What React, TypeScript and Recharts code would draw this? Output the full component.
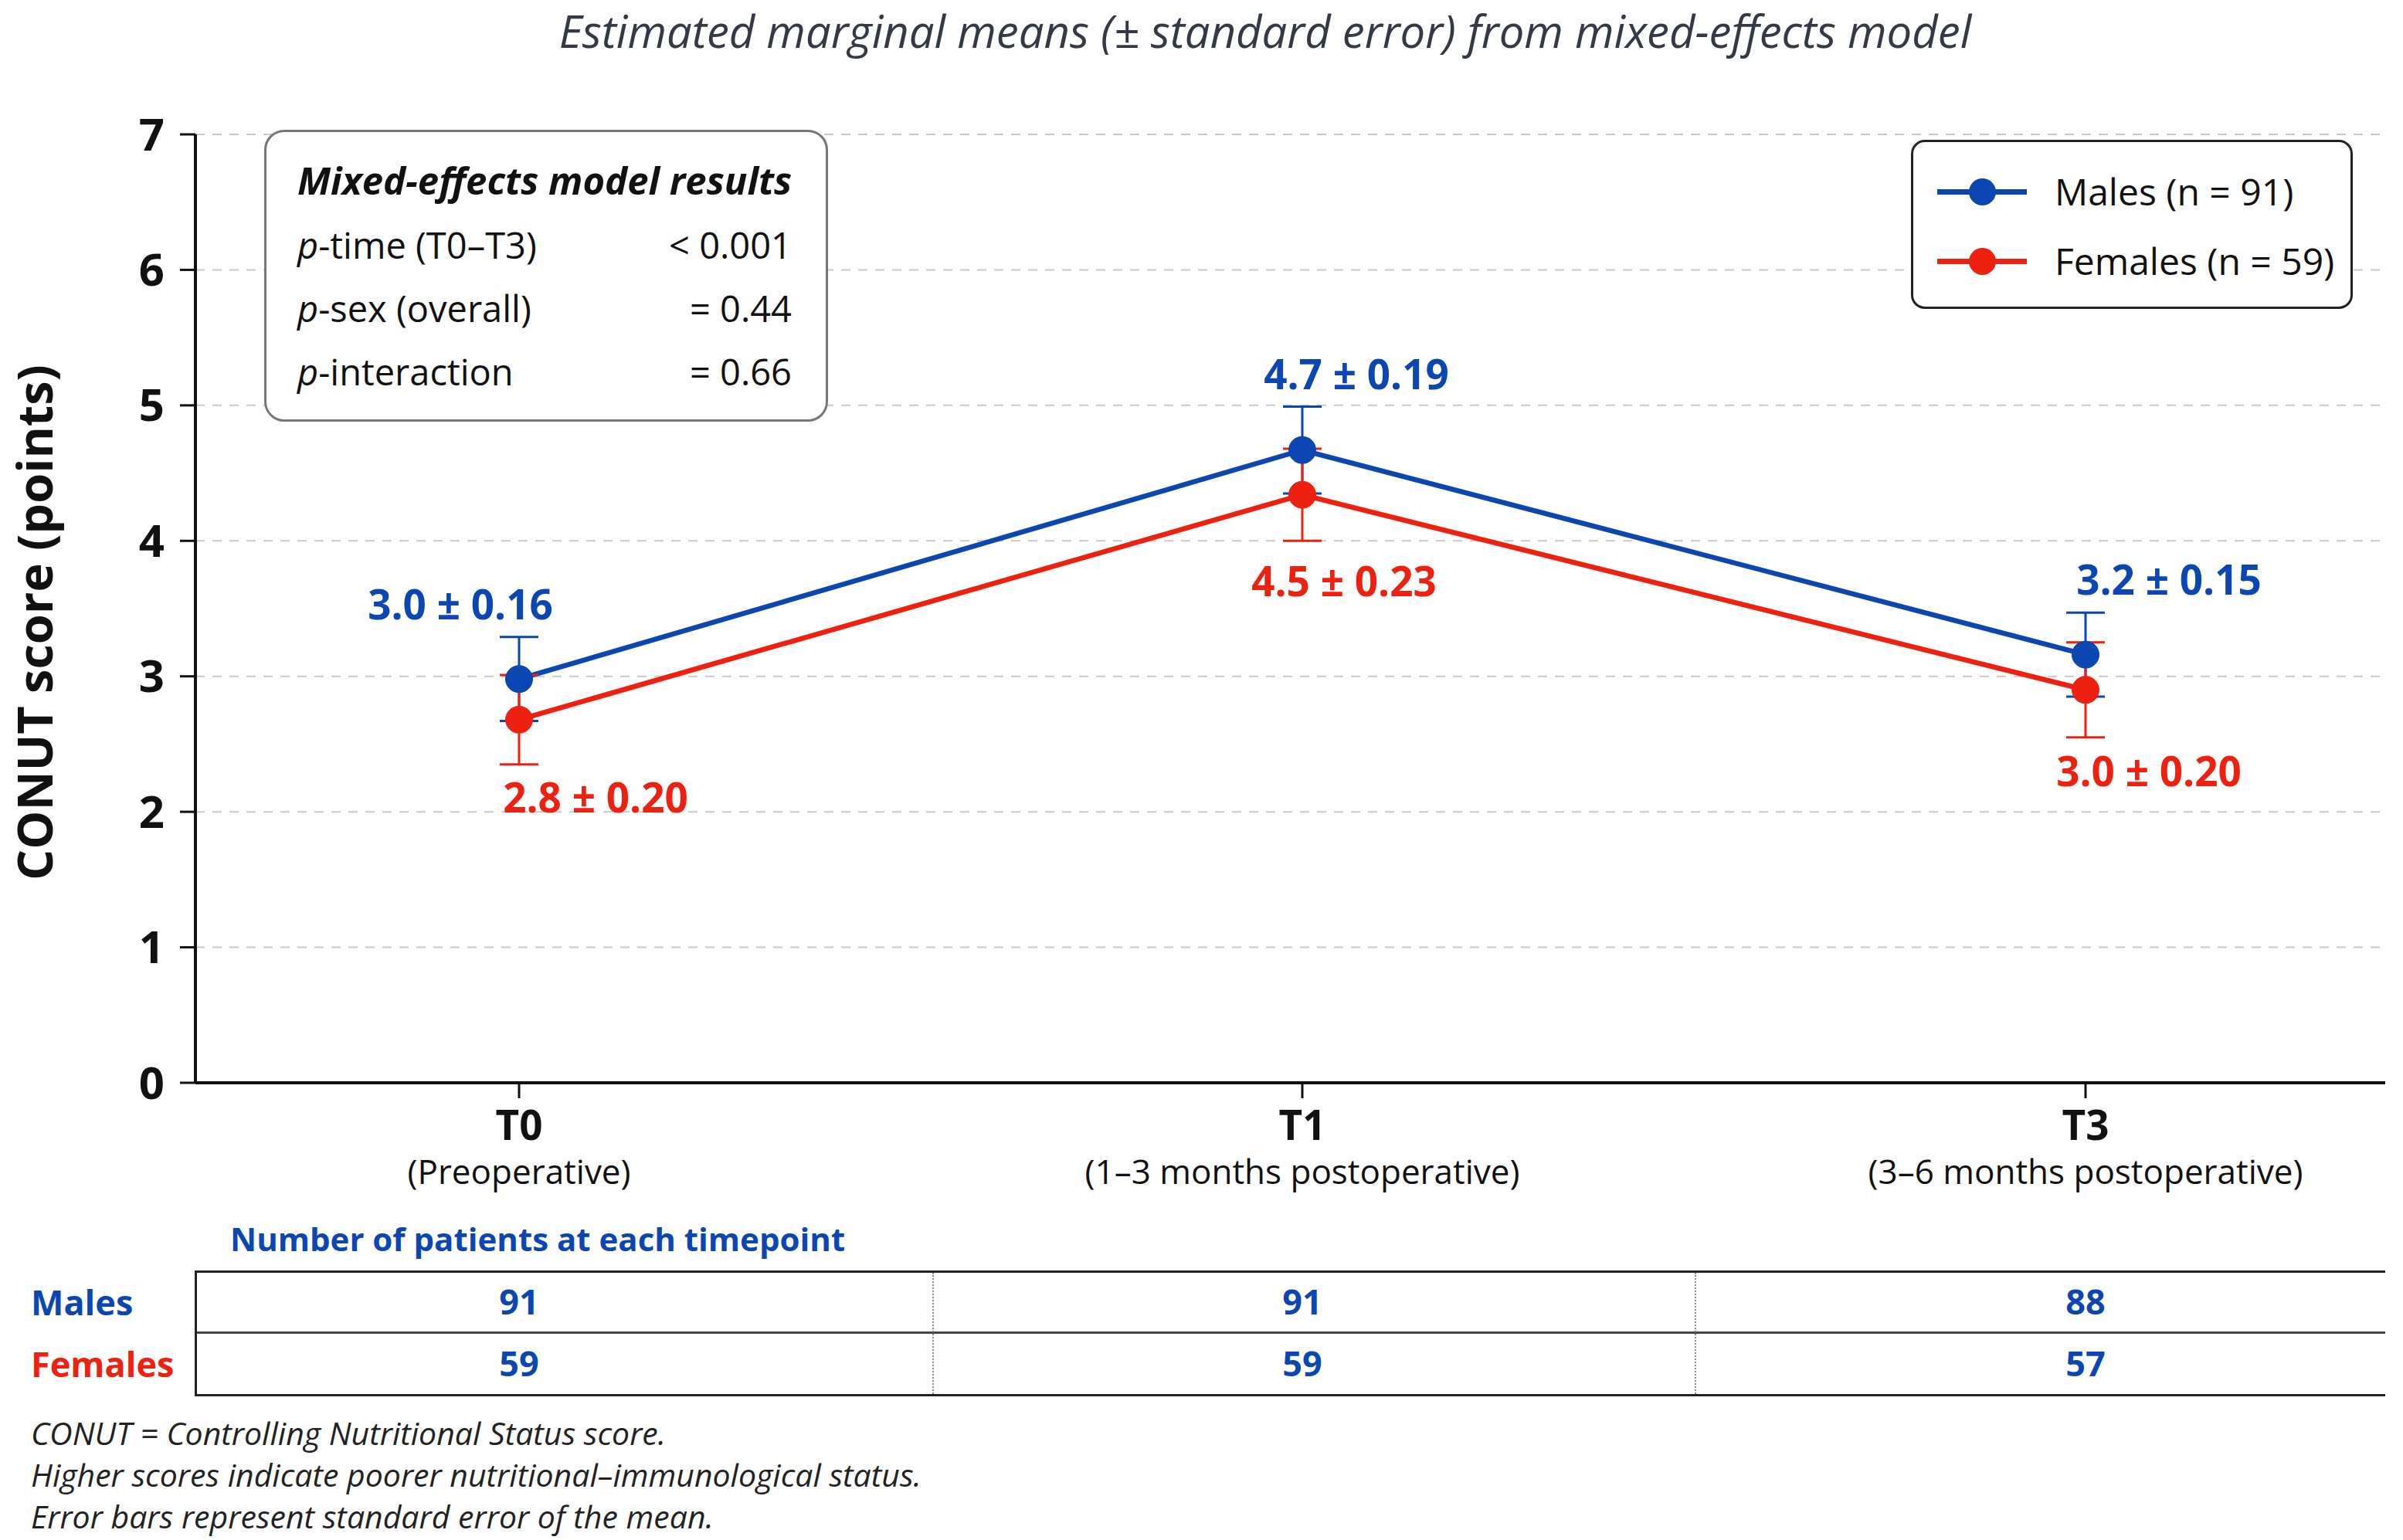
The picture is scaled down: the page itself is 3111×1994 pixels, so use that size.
import React from 'react';
import { LineChart, Line, XAxis, YAxis, CartesianGrid, ErrorBar, LabelList } from 'recharts';

const timepoints = ['T0', 'T1', 'T3'];
const timepointNotes = ['(Preoperative)', '(1–3 months postoperative)', '(3–6 months postoperative)'];

const malesMean = [2.98, 4.67, 3.16];
const malesSe = [0.31, 0.32, 0.31];
const malesLabels = ['3.0 ± 0.16', '4.7 ± 0.19', '3.2 ± 0.15'];
const malesN = [91, 91, 88];

const femalesMean = [2.68, 4.34, 2.9];
const femalesSe = [0.33, 0.34, 0.35];
const femalesLabels = ['2.8 ± 0.20', '4.5 ± 0.23', '3.0 ± 0.20'];
const femalesN = [59, 59, 57];

const yTicks = [0, 1, 2, 3, 4, 5, 6, 7];

const seriesNames = ['Males (n = 91)', 'Females (n = 59)'];

const modelTerms = ['time (T0–T3)', 'sex (overall)', 'interaction'];
const modelValues = ['< 0.001', '= 0.44', '= 0.66'];

const footnotes = [
  'CONUT = Controlling Nutritional Status score.',
  'Higher scores indicate poorer nutritional–immunological status.',
  'Error bars represent standard error of the mean.',
];

const data = timepoints.map((t, i) => ({
  name: t,
  males: malesMean[i],
  malesSe: malesSe[i],
  malesLabel: malesLabels[i],
  females: femalesMean[i],
  femalesSe: femalesSe[i],
  femalesLabel: femalesLabels[i],
}));

const BLUE = '#0b46b3';
const RED = '#ee2010';
const FONT = '"Open Sans", "Noto Sans", sans-serif';

// label offsets from each point (px)
const maleLabelShift = [[-76, -98], [70, -99], [108, -98]];
const femaleLabelShift = [[99, 100], [54, 111], [82, 104]];

const makeLabel = (labels: string[], shift: number[][], color: string) => (p: any) => {
  const i = p.index != null ? p.index : labels.indexOf(p.value);
  const x = p.x != null ? p.x : p.viewBox?.x;
  const y = p.y != null ? p.y : p.viewBox?.y;
  if (x == null || i < 0) return null;
  return (
    <text
      x={x + shift[i][0]}
      y={y + shift[i][1]}
      textAnchor="middle"
      dominantBaseline="central"
      fontSize={53}
      fontWeight={700}
      fill={color}
    >
      {labels[i]}
    </text>
  );
};

const TimeTick = (props: any) => {
  const { x, y, payload } = props;
  const i = timepoints.indexOf(payload.value);
  return (
    <g>
      <text x={x} y={y + 33} textAnchor="middle" dominantBaseline="central" fontSize={53} fontWeight={700} fill="#111">
        {payload.value}
      </text>
      <text x={x} y={y + 94} textAnchor="middle" dominantBaseline="central" fontSize={44} fill="#111">
        {timepointNotes[i]}
      </text>
      <text x={x} y={y + 262} textAnchor="middle" dominantBaseline="central" fontSize={45} fontWeight={700} fill={BLUE}>
        {malesN[i]}
      </text>
      <text x={x} y={y + 342} textAnchor="middle" dominantBaseline="central" fontSize={45} fontWeight={700} fill={BLUE}>
        {femalesN[i]}
      </text>
    </g>
  );
};

const abs = (s: React.CSSProperties): React.CSSProperties => ({ position: 'absolute', ...s });

export default function App() {
  return (
    <div style={abs({ left: 0, top: 0, width: 3111, height: 1994, background: '#fff', fontFamily: FONT, overflow: 'hidden' })}>
      <div style={abs({ left: 0, top: 0 })}>
        <LineChart width={3111} height={1830} data={data} margin={{ top: 174, right: 23, left: 153, bottom: 28 }}>
          <CartesianGrid vertical={false} stroke="#c9c9c9" strokeWidth={2} strokeDasharray="12 10" />
          <XAxis
            dataKey="name"
            type="category"
            padding={{ left: 419, right: 388 }}
            height={400}
            interval={0}
            axisLine={{ stroke: '#111', strokeWidth: 4 }}
            tickLine={{ stroke: '#111', strokeWidth: 3 }}
            tickSize={20}
            tickMargin={0}
            tick={<TimeTick />}
          />
          <YAxis
            domain={[0, 7]}
            ticks={yTicks}
            width={100}
            interval={0}
            axisLine={{ stroke: '#111', strokeWidth: 4 }}
            tickLine={{ stroke: '#111', strokeWidth: 3 }}
            tickSize={20}
            tickMargin={20}
            tick={{ fontSize: 58, fontWeight: 700, fill: '#111' }}
          />
          <Line
            dataKey="males"
            type="linear"
            stroke={BLUE}
            strokeWidth={6.5}
            dot={{ r: 17.5, fill: BLUE, stroke: BLUE, strokeWidth: 1 }}
            isAnimationActive={false}
          >
            <ErrorBar dataKey="malesSe" width={25} stroke={BLUE} strokeWidth={3} direction="y" />
            <LabelList dataKey="malesLabel" content={makeLabel(malesLabels, maleLabelShift, BLUE)} />
          </Line>
          <Line
            dataKey="females"
            type="linear"
            stroke={RED}
            strokeWidth={6.5}
            dot={{ r: 17.5, fill: RED, stroke: RED, strokeWidth: 1 }}
            isAnimationActive={false}
          >
            <ErrorBar dataKey="femalesSe" width={25} stroke={RED} strokeWidth={3} direction="y" />
            <LabelList dataKey="femalesLabel" content={makeLabel(femalesLabels, femaleLabelShift, RED)} />
          </Line>
        </LineChart>
      </div>

      {/* title */}
      <div style={abs({ left: 138, top: 6, width: 3000, textAlign: 'center', fontSize: 58, fontStyle: 'italic', color: '#333a45', lineHeight: '68px', whiteSpace: 'nowrap' })}>
        Estimated marginal means (± standard error) from mixed-effects model
      </div>

      {/* y axis title */}
      <div
        style={abs({
          left: 44 - 400,
          top: 806 - 40,
          width: 800,
          height: 80,
          lineHeight: '80px',
          textAlign: 'center',
          fontSize: 63,
          fontWeight: 700,
          color: '#111',
          transform: 'rotate(-90deg)',
        })}
      >
        CONUT score (points)
      </div>

      {/* model results box */}
      <div style={abs({ left: 342, top: 168, width: 724, height: 372, border: '3px solid #777', borderRadius: 26, background: '#fff' })}>
        <div style={abs({ left: 40, top: 62 - 30, lineHeight: '60px', fontSize: 49, fontWeight: 700, fontStyle: 'italic', color: '#111' })}>
          Mixed-effects model results
        </div>
        {modelTerms.map((t, i) => (
          <React.Fragment key={t}>
            <div style={abs({ left: 40, top: 146 + i * 82 - 30, lineHeight: '60px', fontSize: 47, color: '#111' })}>
              <i>p</i>-{t}
            </div>
            <div style={abs({ right: 44, top: 146 + i * 82 - 30, lineHeight: '60px', fontSize: 47, color: '#111' })}>
              {modelValues[i]}
            </div>
          </React.Fragment>
        ))}
      </div>

      {/* legend */}
      <div style={abs({ left: 2474, top: 181, width: 566, height: 213, border: '3px solid #222', borderRadius: 18, background: '#fff' })}>
        {seriesNames.map((n, i) => {
          const c = i === 0 ? BLUE : RED;
          const cy = 64 + i * 90;
          return (
            <React.Fragment key={n}>
              <div style={abs({ left: 31, top: cy - 3.5, width: 116, height: 7, background: c })} />
              <div style={abs({ left: 89 - 17.5, top: cy - 17.5, width: 35, height: 35, borderRadius: '50%', background: c })} />
              <div style={abs({ left: 183, top: cy - 30, lineHeight: '60px', fontSize: 48, color: '#111', whiteSpace: 'nowrap' })}>{n}</div>
            </React.Fragment>
          );
        })}
      </div>

      {/* patient count table */}
      <div style={abs({ left: 298, top: 1604 - 30, lineHeight: '60px', fontSize: 42, fontWeight: 700, color: BLUE })}>
        Number of patients at each timepoint
      </div>
      <div style={abs({ left: 253, top: 1645, width: 2835, height: 3, background: '#222' })} />
      <div style={abs({ left: 253, top: 1724, width: 2835, height: 3, background: '#444' })} />
      <div style={abs({ left: 253, top: 1805, width: 2835, height: 3, background: '#222' })} />
      <div style={abs({ left: 252, top: 1645, width: 3, height: 163, background: '#222' })} />
      <div style={abs({ left: 1207, top: 1648, width: 0, height: 157, borderLeft: '2px dotted #888' })} />
      <div style={abs({ left: 2194, top: 1648, width: 0, height: 157, borderLeft: '2px dotted #888' })} />
      <div style={abs({ left: 40, top: 1686 - 30, lineHeight: '60px', fontSize: 45, fontWeight: 700, color: BLUE })}>Males</div>
      <div style={abs({ left: 40, top: 1766 - 30, lineHeight: '60px', fontSize: 45, fontWeight: 700, color: RED })}>Females</div>

      {/* footnotes */}
      {footnotes.map((f, i) => (
        <div key={f} style={abs({ left: 40, top: 1855 + i * 54 - 27, lineHeight: '54px', fontSize: 41, fontStyle: 'italic', color: '#222', whiteSpace: 'nowrap' })}>
          {f}
        </div>
      ))}
    </div>
  );
}
